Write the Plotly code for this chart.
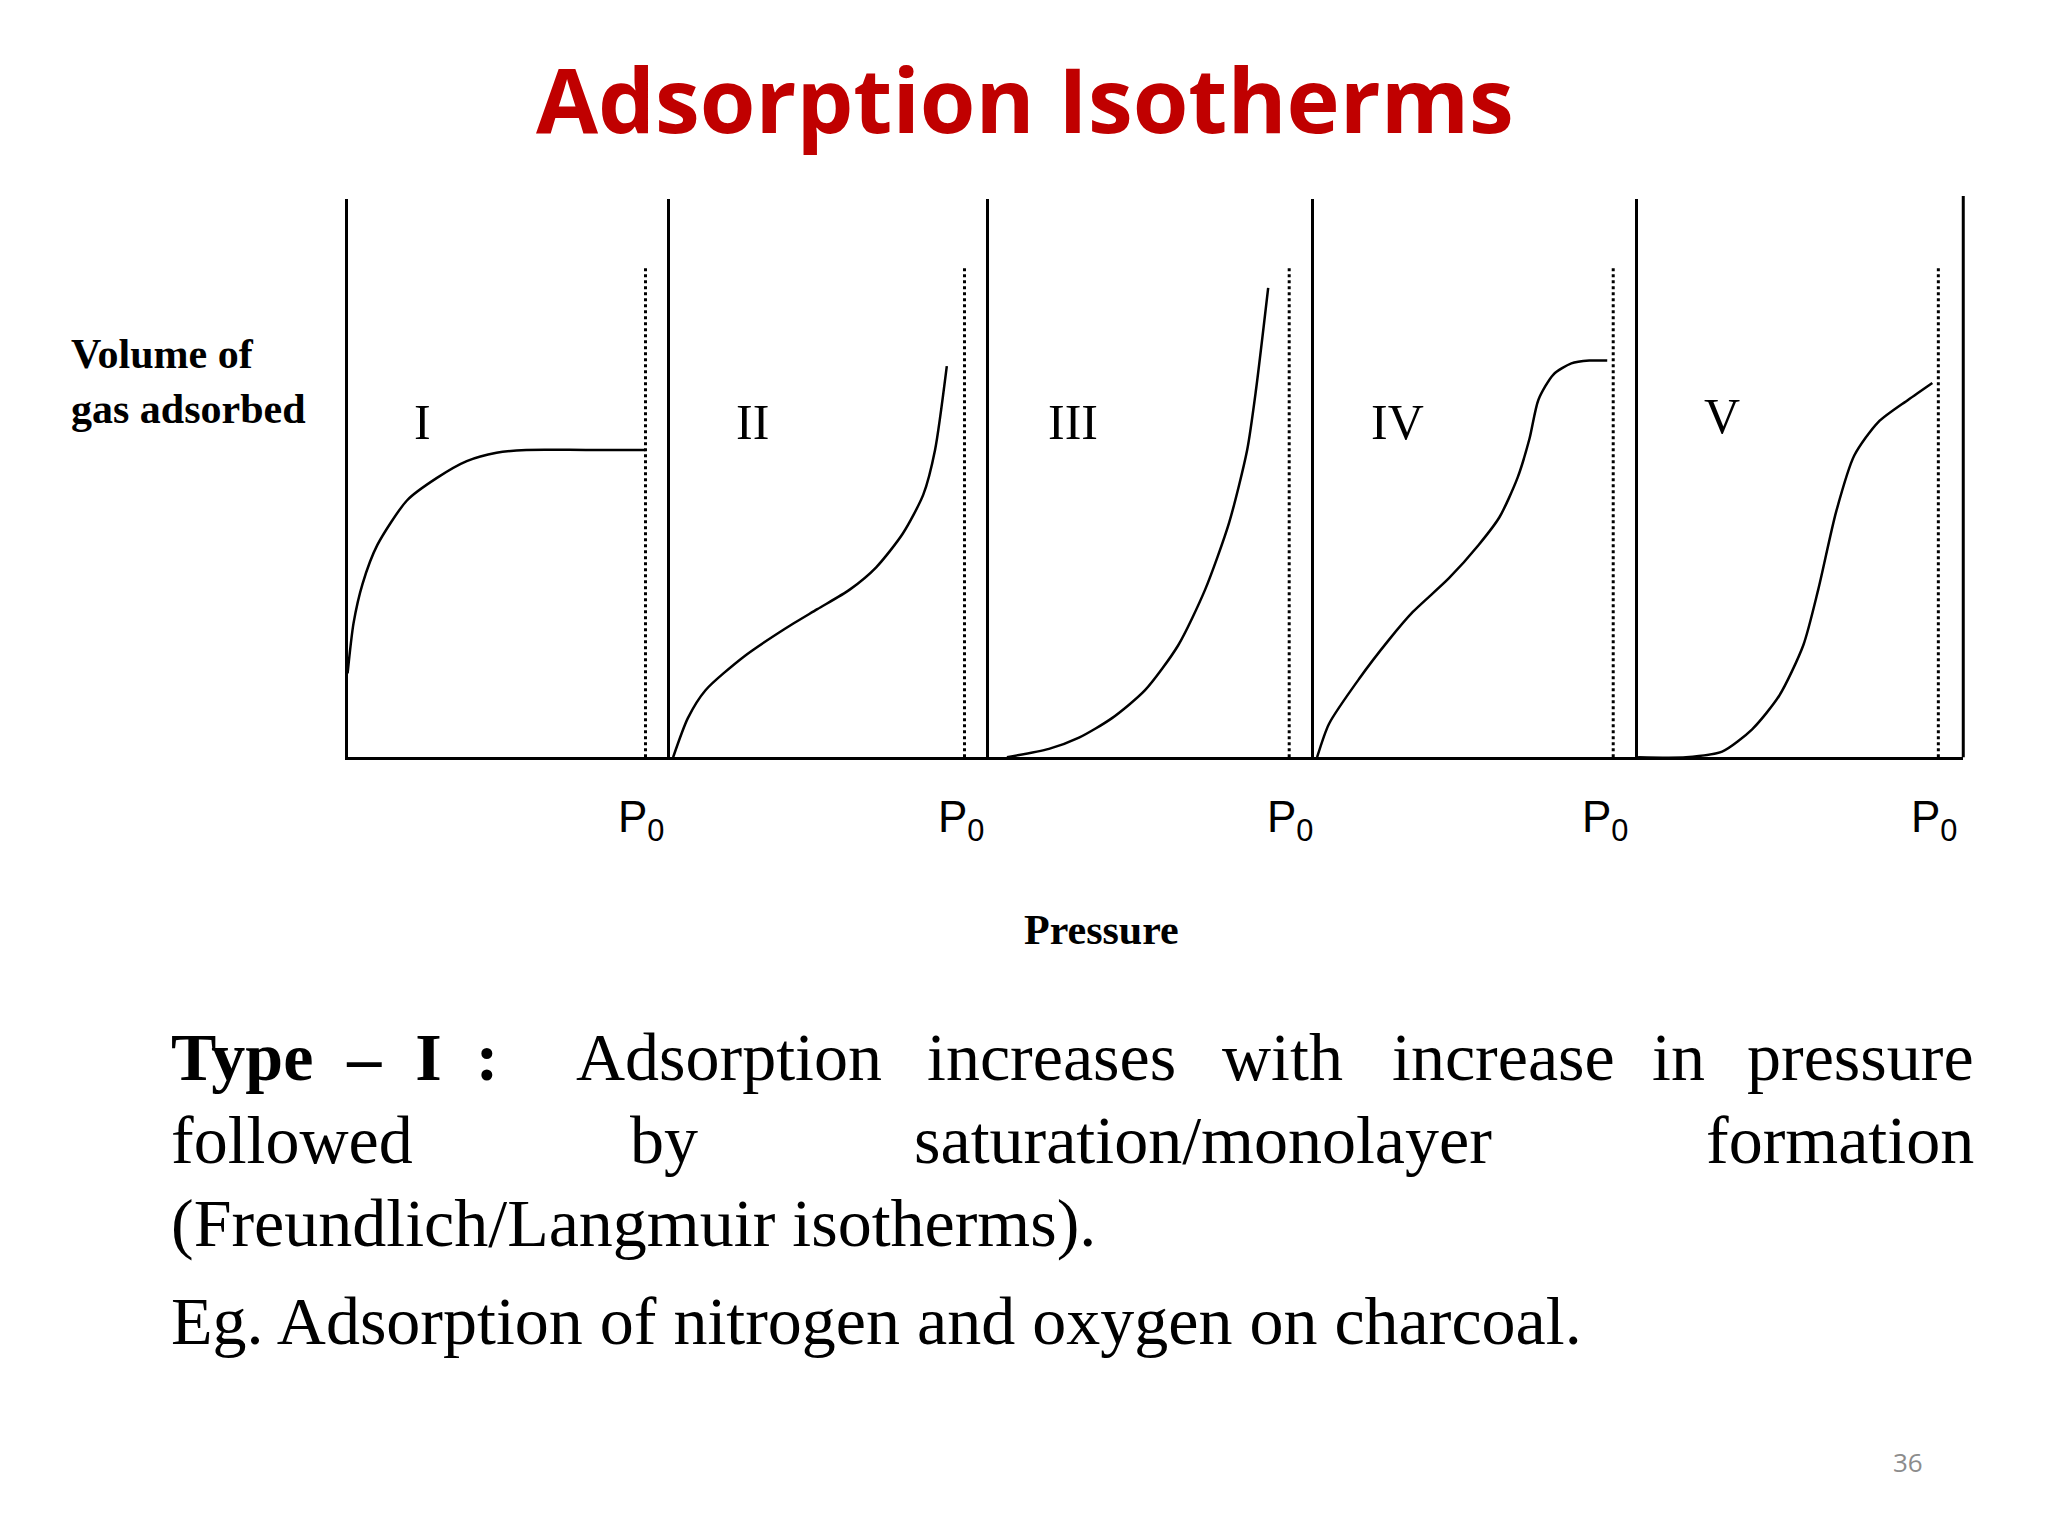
import plotly.graph_objects as go

# isotherm curves, x = P/P0, y = relative volume adsorbed
types = ["I", "II", "III", "IV", "V"]
curve_x = [
    [0.0, 0.02, 0.05, 0.1, 0.2, 0.3, 0.4, 0.5, 0.6, 0.8, 1.0],
    [0.01, 0.06, 0.12, 0.25, 0.39, 0.5, 0.61, 0.7, 0.79, 0.86, 0.9, 0.94],
    [0.06, 0.2, 0.3, 0.41, 0.52, 0.63, 0.72, 0.8, 0.86, 0.89, 0.93],
    [0.01, 0.05, 0.15, 0.25, 0.33, 0.45, 0.55, 0.62, 0.68, 0.72, 0.75, 0.8, 0.86, 0.92, 0.98],
    [0.0, 0.16, 0.28, 0.38, 0.47, 0.55, 0.6, 0.66, 0.72, 0.8, 0.9, 0.98],
]
curve_y = [
    [0.15, 0.24, 0.31, 0.38, 0.46, 0.50, 0.53, 0.545, 0.55, 0.55, 0.55],
    [0.0, 0.07, 0.12, 0.18, 0.23, 0.265, 0.30, 0.34, 0.40, 0.47, 0.55, 0.70],
    [0.0, 0.015, 0.035, 0.07, 0.12, 0.20, 0.30, 0.42, 0.55, 0.66, 0.84],
    [0.0, 0.06, 0.14, 0.21, 0.26, 0.32, 0.38, 0.43, 0.50, 0.57, 0.64, 0.685, 0.705, 0.71, 0.71],
    [0.0, 0.0, 0.01, 0.05, 0.11, 0.20, 0.30, 0.44, 0.54, 0.60, 0.64, 0.67],
]
label_y = [0.60, 0.60, 0.60, 0.60, 0.61]

# panel positions in slide px (1568 x 1176 slide)
DX, DY = -5, -6
panel_left = [p + DX for p in [265, 512, 756, 1005, 1253, 1502]]
W, H = 1568.0, 1176.0
base_y, top_y = 580 + DY, 152 + DY

fig = go.Figure()
for i, t in enumerate(types):
    n = "" if i == 0 else str(i + 1)
    fig.add_trace(go.Scatter(x=curve_x[i], y=curve_y[i], mode="lines",
                             line=dict(color="black", width=2.5, shape="spline", smoothing=0.7),
                             xaxis="x" + n, yaxis="y" + n, showlegend=False))
    fig.add_trace(go.Scatter(x=[1, 1], y=[0, 0.88], mode="lines",
                             line=dict(color="black", width=3, dash="dot"),
                             xaxis="x" + n, yaxis="y" + n, showlegend=False))
    fig.add_annotation(x=0.25 if i == 0 else 0.28, y=label_y[i], xref="x" + n, yref="y" + n,
                       text=t, showarrow=False,
                       font=dict(family="Liberation Serif", size=50, color="black"))
    ax = dict(domain=[panel_left[i] / W, panel_left[i + 1] / W], range=[0, 1.083],
              showline=True, linecolor="black", linewidth=3, showgrid=False,
              zeroline=False, showticklabels=False, ticks="")
    ay = dict(domain=[1 - base_y / H, 1 - top_y / H], range=[0, 1],
              showline=True, linecolor="black", linewidth=3, showgrid=False,
              zeroline=False, showticklabels=False, ticks="")
    if i > 0:
        ax["anchor"] = "y" + n
        ay["anchor"] = "x" + n
    fig.update_layout({"xaxis" + n: ax, "yaxis" + n: ay})
# right edge line
fig.add_shape(type="line", xref="paper", yref="paper", x0=panel_left[5] / W, x1=panel_left[5] / W,
              y0=1 - base_y / H, y1=1 - (150 + DY) / H, line=dict(color="black", width=3))

serif = "Liberation Serif"
def txt(x, y, s, size=68, anchor="left", color="black", family=serif, align="left"):
    fig.add_annotation(x=(x + DX) / W, y=1 - (y + DY) / H, xref="paper", yref="paper", text=s,
                       showarrow=False, xanchor=anchor, yanchor="middle", align=align,
                       font=dict(family=family, size=size, color=color))

p0_x = [490, 735, 987, 1228, 1480]
for x in p0_x:
    txt(x, 628, "P<sub>0</sub>", size=44, anchor="center", family="Liberation Sans")

txt(784, 75, "<b>Adsorption Isotherms</b>", size=90, anchor="center",
    color="#C00000", family="Open Sans")
txt(52, 292, "<b>Volume of<br>gas adsorbed</b>", size=42)
txt(842, 712, "<b>Pressure</b>", size=42, anchor="center")

line1_words = ["<b>Type  –  I  :</b>", "Adsorption", "increases", "with", "increase", "in", "pressure"]
line1_x = [128, 438, 707, 933, 1063, 1262, 1512]
line2_words = ["followed", "by", "saturation/monolayer", "formation"]
line2_x = [128, 480, 697, 1512]
for j, (w, x) in enumerate(zip(line1_words, line1_x)):
    txt(x, 810, w, anchor="right" if j == len(line1_words) - 1 else "left")
for j, (w, x) in enumerate(zip(line2_words, line2_x)):
    txt(x, 873, w, anchor="right" if j == len(line2_words) - 1 else "left")
txt(128, 937, "(Freundlich/Langmuir isotherms).")
txt(128, 1012, "Eg. Adsorption of nitrogen and oxygen on charcoal.")
txt(1460, 1120, "36", size=26, anchor="center", color="#8c8c8c", family="Open Sans")

fig.update_layout(width=2048, height=1535, margin=dict(l=0, r=0, t=0, b=0),
                  paper_bgcolor="white", plot_bgcolor="rgba(0,0,0,0)")
fig.write_html("out.html")
